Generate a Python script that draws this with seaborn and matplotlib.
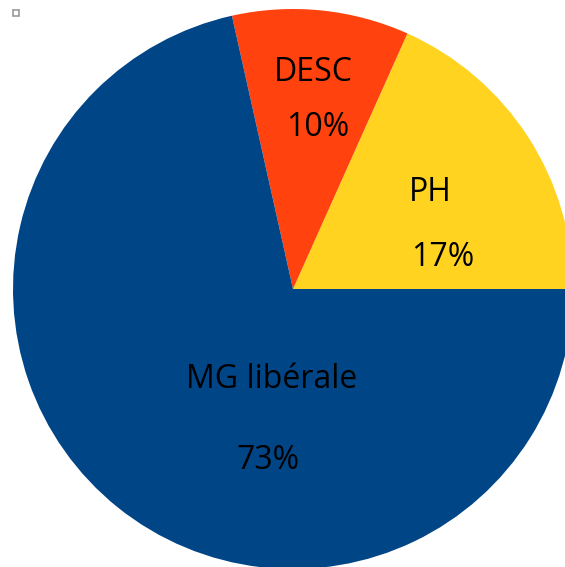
import matplotlib
matplotlib.use("Agg")
import matplotlib.pyplot as plt
import seaborn as sns
from matplotlib.patches import Rectangle

categories = ["PH", "DESC", "MG libérale"]
shares = [18.3, 10.2, 71.5]
pct_labels = ["17", "10", "73"]
colors = ["#FFD320", "#FF420E", "#004586"]

# label anchor points (pie units, centre = 0,0)
name_pos = [(0.49, 0.345), (0.072, 0.772), (-0.075, -0.325)]
pct_pos = [(0.536, 0.114), (0.089, 0.575), (-0.089, -0.611)]

sns.set_style("white")
plt.rcParams['font.family'] = ['Open Sans', 'DejaVu Sans']

fig = plt.figure(figsize=(5.65, 5.67), dpi=100)
ax = fig.add_axes([13 / 565, -2 / 567, 560 / 565, 560 / 567])

ax.pie(shares, colors=colors, startangle=0, counterclock=True, radius=1,
       wedgeprops=dict(linewidth=0))

for name, (x, y) in zip(categories, name_pos):
    ax.text(x, y, name, ha='center', va='center', fontsize=23, color='black')
for p, (x, y) in zip(pct_labels, pct_pos):
    ax.text(x, y, p + "%", ha='center', va='center', fontsize=23, color='black')

ax.set_xlim(-1, 1)
ax.set_ylim(-1, 1)
ax.set_aspect('equal')
ax.axis('off')

# small marker square in the top-left corner
fig.patches.append(Rectangle((13 / 565, 1 - 16 / 567), 6 / 565, 6 / 567,
                             transform=fig.transFigure, fill=False,
                             edgecolor='#999999', linewidth=1.2))

fig.savefig("out.png", dpi=100)
